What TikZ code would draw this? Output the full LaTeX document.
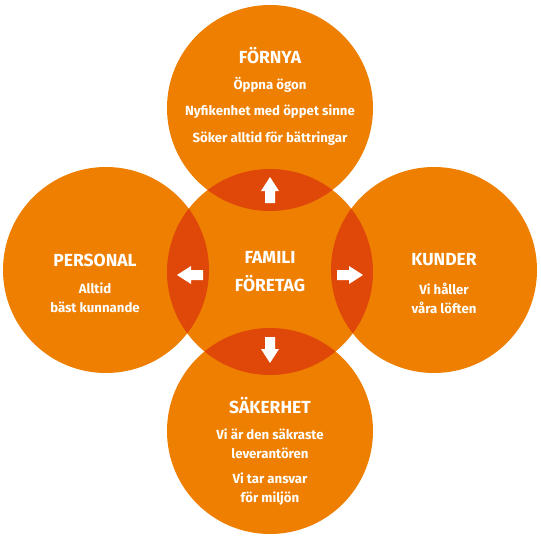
\documentclass[tikz,border=0pt]{standalone}
\usepackage{fontspec}
\setmainfont{Fira Sans}
\definecolor{orng}{HTML}{EE7F00}
\definecolor{lens}{HTML}{E0480A}
\tikzset{
  petal/.style={circle, fill=orng, minimum size=206pt, inner sep=0pt},
  ttl/.style={text=white, font=\bfseries\fontsize{17.5}{28}\selectfont, align=center},
  sub/.style={text=white, font=\bfseries\fontsize{13.2}{19}\selectfont, align=center},
  blockarrow/.style={fill=white}
}
\begin{document}
\begin{tikzpicture}[x=1pt,y=-1pt]
\useasboundingbox (0,0) rectangle (540,540);
\node[petal] (c) at (270,272) {};
\node[petal] (t) at (270,108) {};
\node[petal] (b) at (270,431) {};
\node[petal] (l) at (106,270) {};
\node[petal] (r) at (434,270) {};
\begin{scope}
\clip (270,272) circle (103pt);
\fill[lens] (270,108) circle (103pt);
\fill[lens] (270,431) circle (103pt);
\fill[lens] (106,270) circle (103pt);
\fill[lens] (434,270) circle (103pt);
\end{scope}
% arrows (up, down, left, right)
\coordinate (au) at (270,190);
\coordinate (ad) at (270,349);
\coordinate (al) at (190,275);
\coordinate (ar) at (350,275);
\fill[blockarrow] ([shift={(0,-13)}]au) -- ++(9,14) -- ++(-4,0) -- ++(0,12) -- ++(-10,0) -- ++(0,-12) -- ++(-4,0) -- cycle;
\fill[blockarrow] ([shift={(0,14)}]ad) -- ++(9,-14) -- ++(-4,0) -- ++(0,-12) -- ++(-10,0) -- ++(0,12) -- ++(-4,0) -- cycle;
\fill[blockarrow] ([shift={(-13,0)}]al) -- ++(14,9) -- ++(0,-4) -- ++(12,0) -- ++(0,-10) -- ++(-12,0) -- ++(0,-4) -- cycle;
\fill[blockarrow] ([shift={(13,0)}]ar) -- ++(-14,9) -- ++(0,-4) -- ++(-12,0) -- ++(0,-10) -- ++(12,0) -- ++(0,-4) -- cycle;
% texts
\node[ttl] (tt) at (270,56) {FÖRNYA};
\node[sub] (t1) at (270,85) {Öppna ögon};
\node[sub] (t2) at (270,112) {Nyfikenhet med öppet sinne};
\node[sub] (t3) at (270,139) {Söker alltid för bättringar};
\node[ttl] (ct) at (270,272) {FAMILI\\FÖRETAG};
\node[ttl] (lt) at (95,260) {PERSONAL};
\node[sub] (l1) at (95,298) {Alltid\\bäst kunnande};
\node[ttl] (rt) at (444,260) {KUNDER};
\node[sub] (r1) at (444,298) {Vi håller\\våra löften};
\node[ttl] (bt) at (270,406) {SÄKERHET};
\node[sub] (b1) at (270,444) {Vi är den säkraste\\leverantören};
\node[sub] (b2) at (270,489) {Vi tar ansvar\\för miljön};
\end{tikzpicture}
\end{document}
